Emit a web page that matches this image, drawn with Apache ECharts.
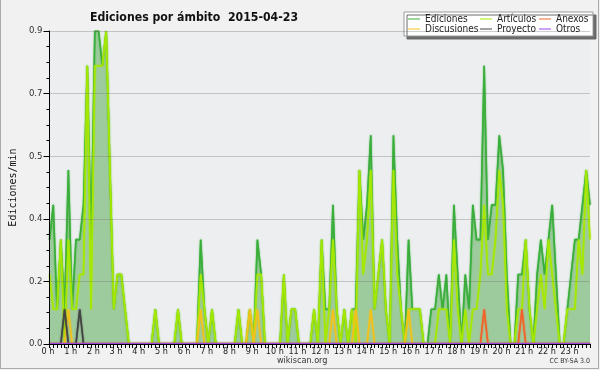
<!DOCTYPE html>
<html><head><meta charset="utf-8">
<script src="https://cdn.jsdelivr.net/npm/echarts@6/dist/echarts.min.js"></script>
<style>html,body{margin:0;padding:0;background:#f1f1f1}#c{width:600px;height:370px}</style>
</head><body><div id="c"></div>
<script>
// 10-minute bins, 6 per hour, 24 hours (each row = one hour)
const hourLabels = ['0 h','1 h','2 h','3 h','4 h','5 h','6 h','7 h','8 h','9 h','10 h','11 h',
  '12 h','13 h','14 h','15 h','16 h','17 h','18 h','19 h','20 h','21 h','22 h','23 h'];
const minuteLabels = ['00','10','20','30','40','50'];

const ediciones = [
  0.3,0.4,0.1,0.3,0.1,0.5,
  0.1,0.3,0.3,0.4,0.8,0.3,
  0.9,0.9,0.8,0.9,0.5,0.1,
  0.2,0.2,0.1,0,0,0,
  0,0,0,0,0.1,0,
  0,0,0,0,0.1,0,
  0,0,0,0,0.3,0.1,
  0,0.1,0,0,0,0,
  0,0,0.1,0,0,0.1,
  0,0.3,0.2,0,0,0,
  0,0,0.2,0,0.1,0.1,
  0,0,0,0,0.1,0,
  0.3,0.1,0.1,0.4,0.1,0,
  0.1,0,0.1,0.1,0.5,0.3,
  0.4,0.6,0.1,0.2,0.3,0.1,
  0,0.6,0.3,0.1,0,0.3,
  0.1,0.1,0.1,0,0,0.1,
  0.1,0.2,0.1,0.2,0,0.4,
  0.2,0,0.2,0.1,0.4,0.3,
  0.3,0.8,0.3,0.4,0.4,0.6,
  0.5,0.2,0,0,0.2,0.2,
  0.3,0.1,0,0.2,0.3,0.2,
  0.3,0.4,0.2,0,0,0.1,
  0.2,0.3,0.3,0.4,0.5,0.4
];
const articulos = [
  0.2,0.1,0.1,0.3,0,0.3,
  0.1,0.1,0.2,0.2,0.8,0.1,
  0.8,0.8,0.8,0.9,0.5,0.1,
  0.2,0.2,0.1,0,0,0,
  0,0,0,0,0.1,0,
  0,0,0,0,0.1,0,
  0,0,0,0,0.2,0.1,
  0,0.1,0,0,0,0,
  0,0,0.1,0,0,0.1,
  0,0.2,0.2,0,0,0,
  0,0,0.2,0,0.1,0.1,
  0,0,0,0,0.1,0,
  0.3,0,0.1,0.3,0.1,0,
  0.1,0,0.1,0,0.5,0.2,
  0.3,0.5,0.1,0.2,0.3,0.1,
  0,0.5,0.2,0.1,0,0.1,
  0.1,0.1,0.1,0,0,0,
  0,0.1,0.1,0.1,0,0.3,
  0.1,0,0.1,0,0.1,0.1,
  0.2,0.4,0.2,0.2,0.3,0.5,
  0.4,0.1,0,0,0.1,0.1,
  0.3,0.1,0,0.1,0.2,0.1,
  0.3,0.2,0.1,0,0,0.1,
  0.1,0.1,0.3,0.2,0.5,0.3
];
const anexos = [
  0,0,0,0,0,0, 0,0,0,0,0,0, 0,0,0,0,0,0, 0,0,0,0,0,0,
  0,0,0,0,0,0, 0,0,0,0,0,0, 0,0,0,0,0,0, 0,0,0,0,0,0,
  0,0,0,0,0,0, 0,0,0,0,0,0, 0,0,0,0,0,0, 0,0,0,0,0,0,
  0,0,0,0,0,0, 0,0,0,0,0,0, 0,0,0,0,0,0, 0,0,0,0,0,0,
  0,0,0,0,0,0, 0,0,0,0,0,0, 0,0,0,0,0,0, 0,0.1,0,0,0,0,
  0,0,0,0,0,0.1, 0,0,0,0,0,0, 0,0,0,0,0,0, 0,0,0,0,0,0
];
const discusiones = [
  0,0,0,0,0,0.1, 0,0,0,0,0,0, 0,0,0,0,0,0, 0,0,0,0,0,0,
  0,0,0,0,0,0, 0,0,0,0,0,0, 0,0,0,0,0.1,0, 0,0,0,0,0,0,
  0,0,0,0,0,0.1, 0,0.1,0,0,0,0, 0,0,0,0,0,0, 0,0,0,0,0,0,
  0,0,0,0.1,0,0, 0,0,0,0.1,0,0, 0,0.1,0,0,0,0, 0,0,0,0,0,0.1,
  0,0,0,0,0,0, 0,0,0,0,0,0, 0,0,0,0,0,0, 0,0,0,0,0,0,
  0,0,0,0,0,0, 0,0,0,0,0,0, 0,0,0,0,0,0, 0,0,0,0,0,0
];
const proyecto = [
  0,0,0,0,0.1,0, 0,0,0.1,0,0,0, 0,0,0,0,0,0, 0,0,0,0,0,0,
  0,0,0,0,0,0, 0,0,0,0,0,0, 0,0,0,0,0,0, 0,0,0,0,0,0,
  0,0,0,0,0,0, 0,0,0,0,0,0, 0,0,0,0,0,0, 0,0,0,0,0,0,
  0,0,0,0,0,0, 0,0,0,0,0,0, 0,0,0,0,0,0, 0,0,0,0,0,0,
  0,0,0,0,0,0, 0,0,0,0,0,0, 0,0,0,0,0,0, 0,0,0,0,0,0,
  0,0,0,0,0,0, 0,0,0,0,0,0, 0,0,0,0,0,0, 0,0,0,0,0,0
];
const otros = [
  0,0,0,0,0,0, 0,0,0,0,0,0, 0,0,0,0,0,0, 0,0,0,0,0,0,
  0,0,0,0,0,0, 0,0,0,0,0,0, 0,0,0,0,0,0, 0,0,0,0,0,0,
  0,0,0,0,0,0, 0,0,0,0,0,0, 0,0,0,0,0,0, 0,0,0,0,0,0,
  0,0,0,0,0,0, 0,0,0,0,0,0, 0,0,0,0,0,0, 0,0,0,0,0,0,
  0,0,0,0,0,0, 0,0,0,0,0,0, 0,0,0,0,0,0, 0,0,0,0,0,0,
  0,0,0,0,0,0, 0,0,0,0,0,0, 0,0,0,0,0,0, 0,0,0,0,0,0
];

const categories = [];
hourLabels.forEach((h, hi) => minuteLabels.forEach(m => categories.push(hi + ':' + m)));

const F = "'DejaVu Sans Condensed', 'DejaVu Sans', sans-serif";
const C = {
  ed: '#3aae3a', edFill: '#9ecb9e', art: '#a6e800', anx: '#f0642a',
  dis: '#f2c21a', pro: '#444444', otr: '#9a44ee'
};
function lineSeries(name, data, color, extra) {
  return Object.assign({
    name, type: 'line', data, showSymbol: false, symbol: 'none',
    lineStyle: { color, width: 1.6, shadowColor: color, shadowBlur: 1.5 }, itemStyle: { color }, z: 2
  }, extra || {});
}

const chart = echarts.init(document.getElementById('c'), null, { renderer: 'canvas' });
chart.setOption({
  animation: false,
  backgroundColor: '#f1f1f1',
  textStyle: { fontFamily: F },
  title: {
    text: 'Ediciones por ámbito  2015-04-23', left: 85, top: 7,
    textStyle: { fontFamily: F, fontSize: 12.2, fontWeight: 'bold', color: '#111' }
  },
  legend: {
    left: 404, top: 12, width: 186, padding: [2, 4, 2, 4], itemGap: 0,
    itemWidth: 12, itemHeight: 1, icon: 'rect',
    backgroundColor: '#ffffff', borderColor: '#9a9a9a', borderWidth: 1,
    shadowColor: '#6a6a6a', shadowBlur: 0, shadowOffsetX: 3, shadowOffsetY: 3,
    textStyle: { fontFamily: F, fontSize: 10, color: '#222', lineHeight: 10, padding: [0, 0, 0, 0] },
    data: [
      { name: 'Ediciones', textStyle: { width: 55 } },
      { name: 'Artículos', textStyle: { width: 42 } },
      { name: 'Anexos', textStyle: { width: 33 } },
      { name: 'Discusiones', textStyle: { width: 55 } },
      { name: 'Proyecto', textStyle: { width: 42 } },
      { name: 'Otros', textStyle: { width: 33 } }
    ]
  },
  grid: { left: 46, right: 10, top: 31, bottom: 26, show: true, backgroundColor: '#eceef0', borderWidth: 0 },
  xAxis: {
    type: 'category', data: categories, boundaryGap: false, z: 5,
    axisLine: { lineStyle: { color: '#000', width: 1 } },
    axisTick: { interval: 0, length: 4, lineStyle: { color: '#000' } },
    axisLabel: {
      interval: 5, margin: 3, fontSize: 9, color: '#222', fontFamily: F,
      padding: [0, 3, 0, 0],
      formatter: (v, i) => hourLabels[Math.round(i / 6)]
    },
    splitLine: { show: false }
  },
  yAxis: {
    type: 'value', min: 0, max: 0.9, interval: 0.18, z: 4,
    axisLine: { show: true, lineStyle: { color: '#000' } },
    axisTick: { show: true, length: 6, lineStyle: { color: '#000' } },
    minorTick: { show: true, splitNumber: 4, length: 3, lineStyle: { color: '#000' } },
    splitLine: { lineStyle: { color: 'rgba(110,110,110,0.33)' } },
    axisLabel: { formatter: v => v.toFixed(1), fontSize: 9.5, color: '#333', margin: 7, fontFamily: F },
    name: 'Ediciones/min', nameLocation: 'middle', nameGap: 31,
    nameTextStyle: { fontFamily: 'DejaVu Sans Mono', fontSize: 10, color: '#111' }
  },
  graphic: [
    { type: 'text', left: 277, top: 356, style: { text: 'wikiscan.org', fontFamily: F, fontSize: 9, fill: '#333' } },
    { type: 'text', right: 10, top: 358, style: { text: 'CC BY-SA 3.0', fontFamily: F, fontSize: 7, fill: '#333' } },
    { type: 'line', shape: { x1: 0.5, y1: 0, x2: 0.5, y2: 369 }, style: { stroke: '#aaa', lineWidth: 1 } },
    { type: 'line', shape: { x1: 0, y1: 368.5, x2: 599, y2: 368.5 }, style: { stroke: '#aaa', lineWidth: 1 } },
    { type: 'line', shape: { x1: 598.5, y1: 0, x2: 598.5, y2: 369 }, style: { stroke: '#aaa', lineWidth: 1 } }
  ],
  series: [
    lineSeries('Ediciones', ediciones, C.ed, { areaStyle: { color: C.edFill, opacity: 1 } }),
    lineSeries('Artículos', articulos, C.art),
    lineSeries('Discusiones', discusiones, C.dis),
    lineSeries('Proyecto', proyecto, C.pro),
    lineSeries('Anexos', anexos, C.anx),
    lineSeries('Otros', otros, C.otr)
  ]
});
</script></body></html>
